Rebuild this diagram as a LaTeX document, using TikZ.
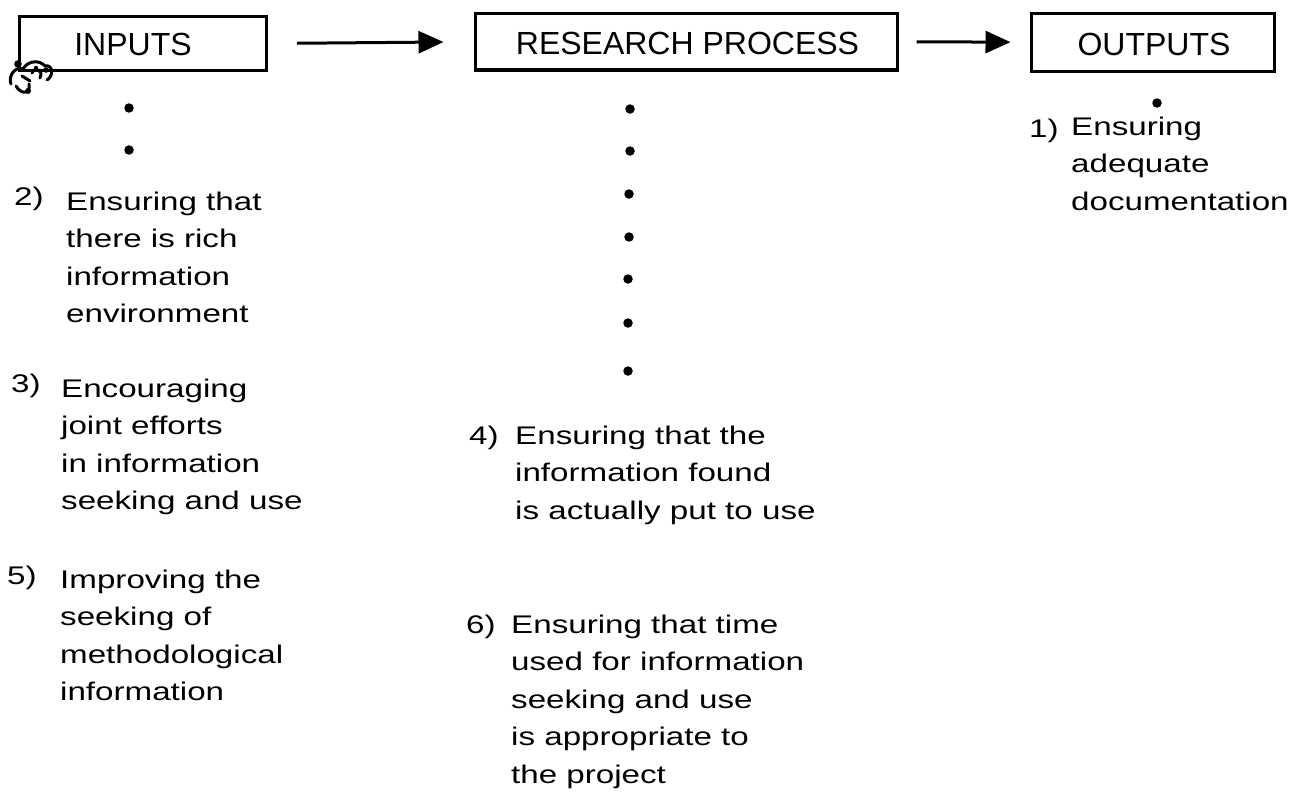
\documentclass[tikz,border=0pt]{standalone}
\usepackage{fontspec}
\setmainfont{Liberation Sans}
\newfontfamily\bodyfont{Liberation Sans}[FakeStretch=1.3,Ligatures=NoCommon]
\usetikzlibrary{arrows.meta}
% stacked lines of one list entry, baseline on the first line
\newcommand{\itemlines}[1]{\begin{tabular}[t]{@{}l@{}}#1\end{tabular}}

\tikzset{
  stagebox/.style={draw, line width=3pt, inner sep=0pt},
  heading/.style={font=\fontsize{32}{38}\selectfont, inner sep=0pt, anchor=base},
  itemtext/.style={font=\bodyfont\fontsize{25.5}{37.5}\selectfont, inner sep=0pt, anchor=base west},
  dot/.style={circle, fill, inner sep=0pt, minimum size=9.5pt},
  flow/.style={line width=3pt, -{Triangle[length=25pt,width=22pt]}},
  scrib/.style={line width=3pt, line cap=round, line join=round},
}

\begin{document}
\begin{tikzpicture}[x=1pt, y=-1pt]
\useasboundingbox (0,0) rectangle (1295,792);

% the three stages
\node[stagebox, minimum width=247pt, minimum height=54pt] (inputs) at (143,43.5) {};
\node[stagebox, minimum width=422pt, minimum height=56.5pt] (research) at (686.5,41.75) {};
\node[stagebox, minimum width=243pt, minimum height=57.7pt] (outputs) at (1153,42.2) {};

\node[heading] (inputsLabel) at (133,56) {INPUTS};
\node[heading] (researchLabel) at (687.5,55) {RESEARCH PROCESS};
\node[heading] (outputsLabel) at (1154,56) {OUTPUTS};

% flow between stages
\draw[flow, shorten <=29pt, shorten >=30.5pt] (inputs.east) -- (research.west);
\draw[flow, shorten <=17.5pt, shorten >=19.5pt] (research.east) -- (outputs.west);

% ink smudge at the corner of the first box
\draw[scrib] (11,84) .. controls (8,76) and (15,66) .. (23,69)
  .. controls (28,60) and (40,60) .. (45,66)
  .. controls (53,64) and (54,76) .. (47,80);
\draw[scrib] (16,86) .. controls (21,95) and (31,94) .. (29,84);
\draw[scrib] (32,73) .. controls (34,67) and (44,69) .. (40,78);
\draw[scrib] (22,76) -- (30,81);
\fill (18,64) circle (3.8pt);
\fill (28,91) circle (3pt);
\fill (46,70) circle (2.8pt);
\fill (36,68) circle (2.2pt);

% dotted leaders under each stage
\node[dot] (inDotA) at (129,108) {};
\node[dot] (inDotB) at (129,150) {};

\node[dot] (rpDotA) at (630,109) {};
\node[dot] (rpDotB) at (630,151) {};
\node[dot] (rpDotC) at (629,194) {};
\node[dot] (rpDotD) at (629,237) {};
\node[dot] (rpDotE) at (628,279) {};
\node[dot] (rpDotF) at (628,323) {};
\node[dot] (rpDotG) at (628,371) {};

\node[dot] (outDotA) at (1157,103) {};

% numbered entries
\node[itemtext] (num2) at (14,205) {2)};
\node[itemtext] (txt2) at (66,210) {\itemlines{Ensuring that\\there is rich\\information\\environment}};

\node[itemtext] (num3) at (11,392) {3)};
\node[itemtext] (txt3) at (61,397) {\itemlines{Encouraging\\joint efforts\\in information\\seeking and use}};

\node[itemtext] (num5) at (7,584.5) {5)};
\node[itemtext] (txt5) at (60,588) {\itemlines{Improving the\\seeking of\\methodological\\information}};

\node[itemtext] (num4) at (469,444) {4)};
\node[itemtext] (txt4) at (515,444) {\itemlines{Ensuring that the\\information found\\is actually put to use}};

\node[itemtext] (num6) at (466,633) {6)};
\node[itemtext] (txt6) at (511,633) {\itemlines{Ensuring that time\\used for information\\seeking and use\\is appropriate to\\the project}};

\node[itemtext] (num1) at (1029,137) {1)};
\node[itemtext] (txt1) at (1071,135) {\itemlines{Ensuring\\adequate\\documentation}};
\end{tikzpicture}
\end{document}
